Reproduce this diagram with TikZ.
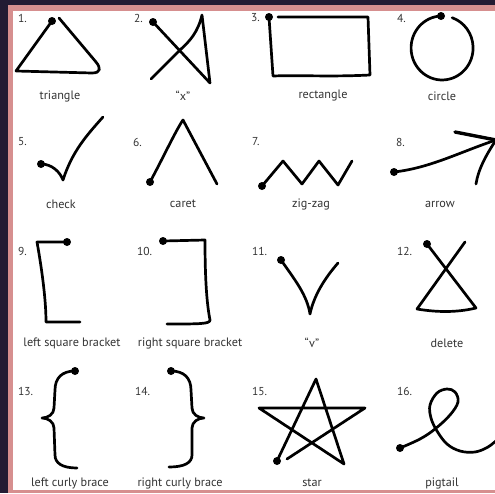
\documentclass[tikz,border=0pt]{standalone}
\usepackage{fontspec}
\setmainfont{PT Sans}
\definecolor{bgdark}{HTML}{231B33}
\definecolor{bgpink}{HTML}{D68F8F}
\definecolor{txt}{HTML}{333333}
\tikzset{
  stroke/.style={line width=2.7pt, line cap=round, line join=round, black},
  startdot/.style={circle, fill=black, inner sep=0pt, minimum size=8pt},
  num/.style={anchor=west, text=txt, font=\fontsize{11.5}{13}\selectfont, inner sep=0pt},
  lbl/.style={text=txt, font=\fontsize{12.2}{14}\selectfont, inner sep=0pt}
}
\begin{document}
\begin{tikzpicture}[x=1pt,y=-1pt]
\useasboundingbox (0,0) rectangle (495,493);
\fill[bgdark] (0,0) rectangle (495,493);
\fill[bgpink] (8,5) rectangle (495,493);
\fill[white] (13,11) rectangle (495,490);

% numbers
\node[num] (n1) at (18,18) {1.};
\node[num] (n2) at (134,18) {2.};
\node[num] (n3) at (251,18) {3.};
\node[num] (n4) at (397,18) {4.};
\node[num] (n5) at (18,142) {5.};
\node[num] (n6) at (133,142) {6.};
\node[num] (n7) at (252,142) {7.};
\node[num] (n8) at (396,142) {8.};
\node[num] (n9) at (18,251) {9.};
\node[num] (n10) at (137,251) {10.};
\node[num] (n11) at (252,251) {11.};
\node[num] (n12) at (397,251) {12.};
\node[num] (n13) at (18,391) {13.};
\node[num] (n14) at (135,391) {14.};
\node[num] (n15) at (252,391) {15.};
\node[num] (n16) at (397,391) {16.};

% labels
\node[lbl] (l1) at (60,96) {triangle};
\node[lbl] (l2) at (183,96) {“x”};
\node[lbl] (l3) at (323,96) {rectangle};
\node[lbl] (l4) at (442,96) {circle};
\node[lbl] (l5) at (61,204) {check};
\node[lbl] (l6) at (183,204) {caret};
\node[lbl] (l7) at (311,204) {zig-zag};
\node[lbl] (l8) at (440,204) {arrow};
\node[lbl] (l9) at (72,343) {left square bracket};
\node[lbl] (l10) at (190,343) {right square bracket};
\node[lbl] (l11) at (312,343) {“v”};
\node[lbl] (l12) at (447,343) {delete};
\node[lbl] (l13) at (70,483) {left curly brace};
\node[lbl] (l14) at (180,483) {right curly brace};
\node[lbl] (l15) at (312,483) {star};
\node[lbl] (l16) at (442,483) {pigtail};

% 1 triangle
\draw[stroke] (52,21) -- (16,71) -- (92,73) .. controls (101,73) and (101,68) .. (96,62) -- (59,18);
\node[startdot] (d1) at (52,21) {};
% 2 x
\draw[stroke] (153,22) -- (210,83) -- (202,15) .. controls (198,32) and (190,41) .. (180,50) -- (151,79);
\node[startdot] (d2) at (153,22) {};
% 3 rectangle
\draw[stroke] (269,17) -- (273,76) .. controls (300,75) and (330,77) .. (370,75) -- (368,17) -- (278,17);
\node[startdot] (d3) at (269,17) {};
% 4 circle
\draw[stroke] (441,16) arc[start angle=268, end angle=-71, x radius=31, y radius=32];
\node[startdot] (d4) at (441,16) {};
% 5 check
\draw[stroke] (41,164) .. controls (52,164) and (60,172) .. (63,180) .. controls (72,152) and (86,136) .. (103,117);
\node[startdot] (d5) at (41,164) {};
% 6 caret
\draw[stroke] (150,182) .. controls (162,160) and (176,130) .. (183,120) -- (217,184);
\node[startdot] (d6) at (150,182) {};
% 7 zig-zag
\draw[stroke] (262,186) -- (283,161) -- (302,184) -- (319,161) -- (338,185) -- (352,161);
\node[startdot] (d7) at (262,186) {};
% 8 arrow
\draw[stroke] (394,172) .. controls (430,168) and (460,152) .. (496,140);
\draw[stroke, line width=3.4pt] (496,140) -- (455,132);
\draw[stroke] (496,140) .. controls (486,155) and (478,170) .. (476,184);
\node[startdot] (d8) at (394,172) {};
% 9 left square bracket
\draw[stroke] (67,242) -- (37,242) .. controls (42,270) and (46,300) .. (46,322) -- (80,322);
\node[startdot] (d9) at (67,242) {};
% 10 right square bracket
\draw[stroke] (163,241) -- (205,240) .. controls (205,270) and (206,300) .. (210,320) .. controls (210,324) and (200,324) .. (167,324);
\node[startdot] (d10) at (163,241) {};
% 11 v
\draw[stroke] (281,260) .. controls (295,280) and (307,295) .. (310,314) .. controls (314,295) and (325,278) .. (338,263);
\node[startdot] (d11) at (281,260) {};
% 12 delete
\draw[stroke] (427,244) -- (476,308) .. controls (455,313) and (435,312) .. (417,309) -- (465,242);
\node[startdot] (d12) at (427,244) {};
% 13 left curly brace
\draw[stroke] (75,371) .. controls (62,371) and (55,378) .. (55,390) -- (54,408) .. controls (54,414) and (48,418) .. (42,418) .. controls (48,418) and (54,422) .. (54,428) -- (55,455) .. controls (55,463) and (62,468) .. (77,468);
\node[startdot] (d13) at (75,371) {};
% 14 right curly brace
\draw[stroke] (171,371) .. controls (184,371) and (191,378) .. (191,390) -- (192,408) .. controls (192,414) and (198,418) .. (204,418) .. controls (198,418) and (192,422) .. (192,428) -- (192,455) .. controls (192,463) and (184,467) .. (169,467);
\node[startdot] (d14) at (171,371) {};
% 15 star
\draw[stroke] (277,461) -- (316,379) -- (344,464) -- (259,408) -- (365,408) -- (287,459);
\node[startdot] (d15) at (277,461) {};
% 16 pigtail
\draw[stroke] plot[smooth, tension=0.6] coordinates {(400,448) (420,439) (435,429) (450,415) (458,402) (455,392) (447,389) (437,393) (430,405) (431,418) (437,431) (447,444) (460,451) (475,452) (488,447) (498,439)};
\node[startdot] (d16) at (400,448) {};
\end{tikzpicture}
\end{document}
